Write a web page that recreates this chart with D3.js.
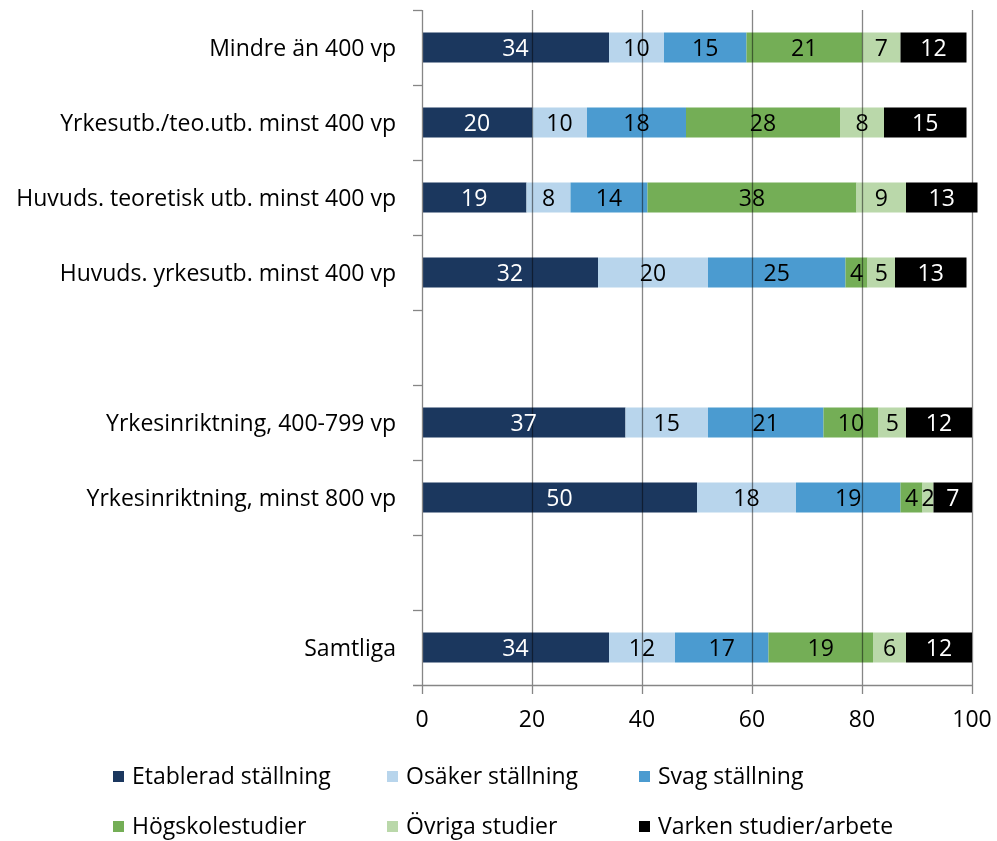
<!DOCTYPE html>
<html><head><meta charset="utf-8">
<script src="https://cdn.jsdelivr.net/npm/d3@7"></script>
<style>
body{margin:0;background:#fff;}
svg{display:block;font-family:"Open Sans",sans-serif;}
</style></head>
<body><svg id="c" width="997" height="841"></svg>
<script>
const categories = ["Mindre än 400 vp","Yrkesutb./teo.utb. minst 400 vp","Huvuds. teoretisk utb. minst 400 vp","Huvuds. yrkesutb. minst 400 vp","","Yrkesinriktning, 400-799 vp","Yrkesinriktning, minst 800 vp","","Samtliga"];
const seriesNames = ["Etablerad ställning","Osäker ställning","Svag ställning","Högskolestudier","Övriga studier","Varken studier/arbete"];
const etablerad = [34,20,19,32,null,37,50,null,34];
const osaker    = [10,10,8,20,null,15,18,null,12];
const svag      = [15,18,14,25,null,21,19,null,17];
const hogskola  = [21,28,38,4,null,10,4,null,19];
const ovriga    = [7,8,9,5,null,5,2,null,6];
const varken    = [12,15,13,13,null,12,7,null,12];
const xTicks = [0,20,40,60,80,100];
const colors = ["#1B375E","#B8D5EC","#4B9BD0","#74AE56","#BAD8AA","#000000"];
const labelColors = ["#fff","#000","#000","#000","#000","#fff"];

const series = [etablerad,osaker,svag,hogskola,ovriga,varken];
const svg = d3.select("#c");
const m = {left:422, right:972, top:10, bottom:685};
const x = d3.scaleLinear().domain([0,100]).range([m.left,m.right]);
const y = d3.scaleBand().domain(d3.range(categories.length)).range([m.top,m.bottom]).paddingInner(0.6).paddingOuter(0.3);
const slot = (m.bottom-m.top)/categories.length;
const FS = 23;

const rows = categories.map((c,i)=>{ const o={i}; series.forEach((s,k)=>o["s"+k]=s[i]||0); return o; });
const stack = d3.stack().keys(series.map((s,k)=>"s"+k))(rows);

const gBars = svg.append("g");
stack.forEach((layer,k)=>{
  gBars.selectAll(null).data(layer.filter(d=>series[k][d.data.i]!=null)).enter().append("rect")
    .attr("x",d=>x(d[0])).attr("width",d=>x(d[1])-x(d[0]))
    .attr("y",d=>y(d.data.i)).attr("height",y.bandwidth())
    .attr("fill",colors[k]);
});
// gridlines on top with multiply
svg.append("g").style("mix-blend-mode","multiply").selectAll(null).data(xTicks.slice(1)).enter().append("line")
  .attr("x1",d=>x(d)+0.5).attr("x2",d=>x(d)+0.5).attr("y1",m.top).attr("y2",m.bottom)
  .attr("stroke","#868686").attr("stroke-width",1.3);
// labels
stack.forEach((layer,k)=>{
  svg.append("g").selectAll(null).data(layer.filter(d=>series[k][d.data.i]!=null)).enter().append("text")
    .attr("x",d=>(x(d[0])+x(d[1]))/2).attr("y",d=>y(d.data.i)+y.bandwidth()/2)
    .attr("dy","0.36em").attr("text-anchor","middle").attr("font-size",FS)
    .attr("fill",labelColors[k]).text(d=>series[k][d.data.i]);
});
// axes
const ax = svg.append("g").attr("stroke","#868686").attr("stroke-width",1.3);
ax.append("line").attr("x1",m.left+0.5).attr("x2",m.left+0.5).attr("y1",m.top).attr("y2",m.bottom+9);
ax.append("line").attr("x1",m.left-9).attr("x2",m.right+1).attr("y1",m.bottom+0.5).attr("y2",m.bottom+0.5);
ax.selectAll(null).data(d3.range(categories.length)).enter().append("line")
  .attr("x1",m.left-9).attr("x2",m.left).attr("y1",i=>m.top+i*slot+0.5).attr("y2",i=>m.top+i*slot+0.5);
ax.selectAll(null).data(xTicks.slice(1)).enter().append("line")
  .attr("x1",d=>x(d)+0.5).attr("x2",d=>x(d)+0.5).attr("y1",m.bottom).attr("y2",m.bottom+9);
svg.append("g").selectAll(null).data(xTicks).enter().append("text")
  .attr("x",d=>x(d)).attr("y",719).attr("dy","0.36em").attr("text-anchor","middle").attr("font-size",FS).attr("fill","#000").text(d=>d);
svg.append("g").selectAll(null).data(categories.map((c,i)=>({c,i})).filter(d=>d.c)).enter().append("text")
  .attr("x",396).attr("y",d=>y(d.i)+y.bandwidth()/2).attr("dy","0.36em").attr("text-anchor","end").attr("font-size",FS).attr("fill","#000").text(d=>d.c);
// legend
const lx=[113,387,639], ly=[776,826];
const lg = svg.append("g").selectAll(null).data(seriesNames).enter().append("g")
  .attr("transform",(d,i)=>`translate(${lx[i%3]},${ly[Math.floor(i/3)]})`);
lg.append("rect").attr("x",0).attr("y",-5).attr("width",11).attr("height",11).attr("fill",(d,i)=>colors[i]);
lg.append("text").attr("x",19).attr("y",0).attr("dy","0.36em").attr("font-size",FS).attr("fill","#000").text(d=>d);
</script></body></html>
